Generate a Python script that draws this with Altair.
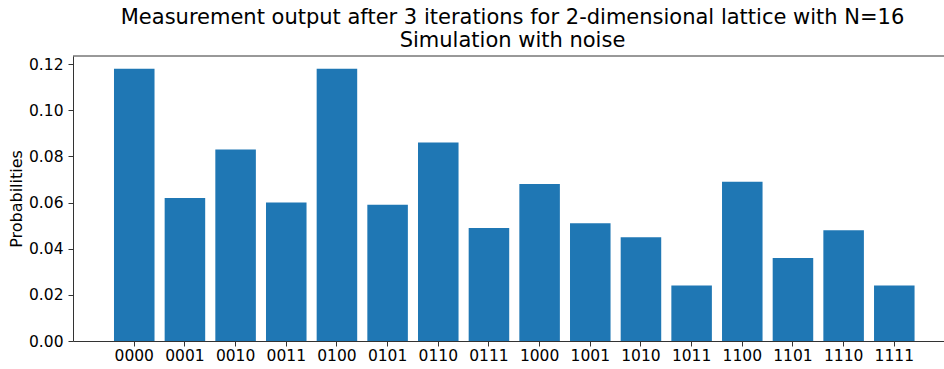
import altair as alt
import pandas as pd

# Measured basis states of the 4-qubit register and their probabilities
states = ["0000", "0001", "0010", "0011", "0100", "0101", "0110", "0111",
          "1000", "1001", "1010", "1011", "1100", "1101", "1110", "1111"]
probabilities = [0.118, 0.062, 0.083, 0.060, 0.118, 0.059, 0.086, 0.049,
                 0.068, 0.051, 0.045, 0.024, 0.069, 0.036, 0.048, 0.024]
y_ticks = [0.00, 0.02, 0.04, 0.06, 0.08, 0.10, 0.12]
title_lines = ["Measurement output after 3 iterations for 2-dimensional lattice with N=16",
               "Simulation with noise"]

df = pd.DataFrame({"state": states, "probability": probabilities})

W, H = 871, 285
FONT = "DejaVu Sans"
SPINE = "#333333"
TICK_FS = 15.5

x_scale = alt.Scale(domain=states, paddingInner=0.2, paddingOuter=0.695, align=0.582)
y_scale = alt.Scale(domain=[0, 0.1235], nice=False, zero=True)

bars = alt.Chart(df).mark_bar(color="#1f77b4").encode(
    x=alt.X("state:N", scale=x_scale, sort=states,
            axis=alt.Axis(title=None, labelAngle=0, labelFont=FONT, labelFontSize=TICK_FS,
                          labelColor="#000000", labelPadding=2, tickSize=5,
                          tickColor=SPINE, domainColor=SPINE, domainWidth=1, grid=False)),
    y=alt.Y("probability:Q", scale=y_scale,
            axis=alt.Axis(values=y_ticks, format=".2f", title="Probabilities",
                          titleFont=FONT, titleFontSize=16, titleFontWeight="normal",
                          titleColor="#000000", titleX=-57, titleY=H / 2,
                          titleAngle=-90, titleAlign="center", titleBaseline="middle",
                          labelFont=FONT, labelFontSize=TICK_FS, labelColor="#000000",
                          labelPadding=5, tickSize=5, tickColor=SPINE,
                          domainColor=SPINE, domainWidth=1, grid=False)),
)

# Upper frame line of the plot area
top_spine = alt.Chart(pd.DataFrame({"k": [0]})).mark_rule(
    color=SPINE, strokeWidth=1
).encode(x=alt.value(0), x2=alt.value(W), y=alt.value(0))

chart = alt.layer(bars, top_spine).properties(
    width=W,
    height=H,
    title=alt.TitleParams(text=title_lines, font=FONT, fontSize=21, fontWeight="normal",
                          color="#000000", lineHeight=23, anchor="middle", offset=5, dx=4),
    autosize=alt.AutoSizeParams(type="none"),
    padding={"left": 73, "top": 56, "right": 0, "bottom": 28},
).configure_view(stroke=None)

chart.save("out.html", embed_options={"renderer": "svg", "actions": False})
